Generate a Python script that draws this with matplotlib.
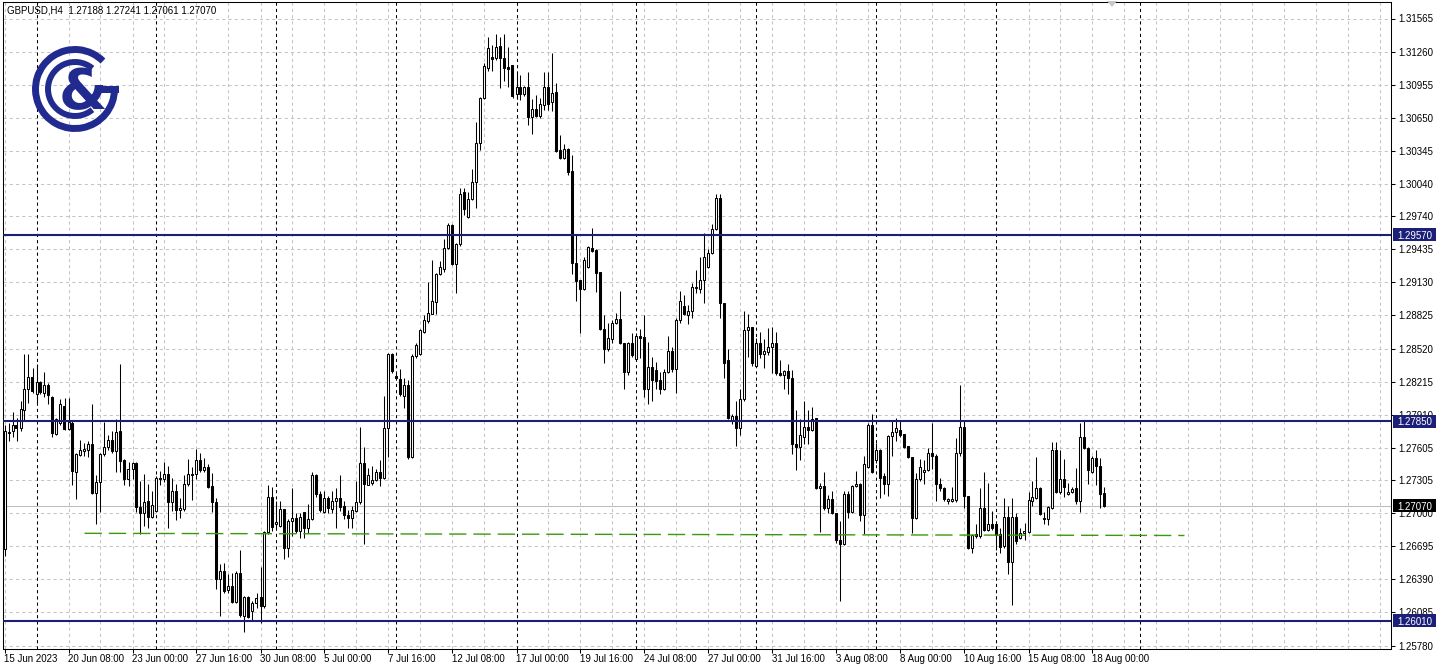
import numpy as np
import matplotlib
matplotlib.use("Agg")
import matplotlib.pyplot as plt
from matplotlib import font_manager
from matplotlib.patches import Rectangle, Arc, Polygon
from matplotlib.transforms import IdentityTransform

# ---------------- data (GBPUSD, H4) ----------------
symbol_info = "GBPUSD,H4  1.27188 1.27241 1.27061 1.27070"

opens = [
    1.2667, 1.2774, 1.2776, 1.2781, 1.2779, 1.2795, 1.2815, 1.2826, 1.2810, 1.2821,
    1.2811, 1.2818, 1.2807, 1.2773, 1.2783, 1.2799, 1.2778, 1.2783, 1.2738, 1.2754,
    1.2757, 1.2758, 1.2764, 1.2719, 1.2729, 1.2755, 1.2761, 1.2768, 1.2757, 1.2776,
    1.2749, 1.2732, 1.2741, 1.2746, 1.2706, 1.2700, 1.2711, 1.2697, 1.2702, 1.2732,
    1.2732, 1.2736, 1.2710, 1.2721, 1.2703, 1.2704, 1.2727, 1.2736, 1.2736, 1.2749,
    1.2740, 1.2743, 1.2725, 1.2710, 1.2639, 1.2647, 1.2629, 1.2633, 1.2618, 1.2645,
    1.2605, 1.2623, 1.2610, 1.2617, 1.2623, 1.2614, 1.2683, 1.2715, 1.2690, 1.2688,
    1.2704, 1.2668, 1.2693, 1.2696, 1.2684, 1.2701, 1.2686, 1.2695, 1.2735, 1.2718,
    1.2701, 1.2714, 1.2704, 1.2711, 1.2714, 1.2707, 1.2698, 1.2696, 1.2702, 1.2710,
    1.2746, 1.2726, 1.2728, 1.2731, 1.2738, 1.2733, 1.2779, 1.2847, 1.2827, 1.2824,
    1.2808, 1.2818, 1.2752, 1.2845, 1.2847, 1.2867, 1.2877, 1.2884, 1.2895, 1.2921,
    1.2925, 1.2945, 1.2966, 1.2930, 1.2948, 1.2996, 1.2973, 1.2990, 1.3006, 1.3042,
    1.3083, 1.3111, 1.3121, 1.3120, 1.3131, 1.3120, 1.3112, 1.3114, 1.3087, 1.3093,
    1.3087, 1.3093, 1.3066, 1.3073, 1.3067, 1.3077, 1.3093, 1.3079, 1.3089, 1.3035,
    1.3028, 1.3036, 1.3016, 1.2931, 1.2915, 1.2907, 1.2927, 1.2945, 1.2943, 1.2923,
    1.2870, 1.2852, 1.2861, 1.2876, 1.2879, 1.2857, 1.2830, 1.2857, 1.2842, 1.2864,
    1.2863, 1.2815, 1.2835, 1.2832, 1.2823, 1.2815, 1.2830, 1.2850, 1.2833, 1.2878,
    1.2891, 1.2883, 1.2887, 1.2909, 1.2907, 1.2915, 1.2927, 1.2940, 1.2962, 1.2991,
    1.2894, 1.2841, 1.2785, 1.2790, 1.2779, 1.2805, 1.2869, 1.2872, 1.2836, 1.2857,
    1.2847, 1.2849, 1.2853, 1.2857, 1.2829, 1.2828, 1.2831, 1.2825, 1.2764, 1.2761,
    1.2770, 1.2780, 1.2777, 1.2788, 1.2723, 1.2725, 1.2705, 1.2713, 1.2700, 1.2675,
    1.2672, 1.2718, 1.2701, 1.2725, 1.2727, 1.2698, 1.2743, 1.2781, 1.2749, 1.2758,
    1.2734, 1.2727, 1.2771, 1.2775, 1.2777, 1.2773, 1.2762, 1.2752, 1.2696, 1.2732,
    1.2738, 1.2740, 1.2756, 1.2753, 1.2727, 1.2723, 1.2711, 1.2711, 1.2712, 1.2756,
    1.2780, 1.2716, 1.2668, 1.2681, 1.2679, 1.2705, 1.2685, 1.2690, 1.2690, 1.2681,
    1.2670, 1.2697, 1.2655, 1.2697, 1.2677, 1.2682, 1.2683, 1.2711, 1.2714, 1.2723,
    1.2696, 1.2695, 1.2705, 1.2758, 1.2720, 1.2732, 1.2718, 1.2720, 1.2723, 1.2711,
    1.2770, 1.2760, 1.2738, 1.2751, 1.2744, 1.27188,
]
highs = [
    1.2781, 1.2783, 1.2793, 1.2788, 1.2804, 1.2847, 1.2847, 1.2834, 1.2838, 1.2822,
    1.2830, 1.2820, 1.2808, 1.2788, 1.2805, 1.2806, 1.2806, 1.2786, 1.2756, 1.2768,
    1.2765, 1.2767, 1.2801, 1.2735, 1.2756, 1.2784, 1.2772, 1.2776, 1.2787, 1.2838,
    1.2750, 1.2747, 1.2747, 1.2747, 1.2730, 1.2736, 1.2727, 1.2721, 1.2734, 1.2739,
    1.2747, 1.2744, 1.2733, 1.2727, 1.2714, 1.2735, 1.2750, 1.2743, 1.2759, 1.2756,
    1.2751, 1.2745, 1.2737, 1.2714, 1.2653, 1.2654, 1.2644, 1.2645, 1.2647, 1.2666,
    1.2624, 1.2624, 1.2619, 1.2626, 1.2650, 1.2684, 1.2726, 1.2724, 1.2711, 1.2711,
    1.2704, 1.2695, 1.2723, 1.2700, 1.2700, 1.2701, 1.2709, 1.2738, 1.2736, 1.2721,
    1.2721, 1.2716, 1.2721, 1.2723, 1.2735, 1.2711, 1.2703, 1.2707, 1.2730, 1.2780,
    1.2761, 1.2742, 1.2744, 1.2741, 1.2749, 1.2808, 1.2848, 1.2848, 1.2829, 1.2833,
    1.2825, 1.2823, 1.2847, 1.2857, 1.2870, 1.2883, 1.2913, 1.2934, 1.2922, 1.2933,
    1.2953, 1.2968, 1.2967, 1.2949, 1.3000, 1.3000, 1.2996, 1.3018, 1.3061, 1.3084,
    1.3115, 1.3139, 1.3132, 1.3142, 1.3139, 1.3142, 1.3130, 1.3114, 1.3107, 1.3104,
    1.3094, 1.3107, 1.3082, 1.3086, 1.3083, 1.3107, 1.3107, 1.3125, 1.3097, 1.3049,
    1.3041, 1.3037, 1.3031, 1.2957, 1.2915, 1.2936, 1.2947, 1.2963, 1.2944, 1.2923,
    1.2883, 1.2876, 1.2878, 1.2885, 1.2905, 1.2857, 1.2858, 1.2866, 1.2866, 1.2870,
    1.2883, 1.2858, 1.2844, 1.2840, 1.2830, 1.2833, 1.2864, 1.2853, 1.2880, 1.2905,
    1.2901, 1.2892, 1.2912, 1.2924, 1.2936, 1.2959, 1.2944, 1.2967, 1.2995, 1.2995,
    1.2894, 1.2852, 1.2792, 1.2804, 1.2815, 1.2887, 1.2884, 1.2872, 1.2862, 1.2867,
    1.2861, 1.2871, 1.2872, 1.2867, 1.2841, 1.2832, 1.2838, 1.2832, 1.2795, 1.2787,
    1.2804, 1.2795, 1.2798, 1.2788, 1.2728, 1.2738, 1.2717, 1.2721, 1.2700, 1.2693,
    1.2721, 1.2721, 1.2726, 1.2739, 1.2728, 1.2753, 1.2783, 1.2792, 1.2765, 1.2759,
    1.2737, 1.2772, 1.2786, 1.2788, 1.2786, 1.2773, 1.2762, 1.2752, 1.2737, 1.2750,
    1.2749, 1.2760, 1.2783, 1.2755, 1.2733, 1.2724, 1.2714, 1.2724, 1.2769, 1.2818,
    1.2786, 1.2716, 1.2681, 1.2690, 1.2723, 1.2738, 1.2728, 1.2702, 1.2691, 1.2686,
    1.2714, 1.2707, 1.2714, 1.2700, 1.2686, 1.2691, 1.2720, 1.2730, 1.2752, 1.2724,
    1.2701, 1.2707, 1.2766, 1.2766, 1.2758, 1.2750, 1.2728, 1.2724, 1.2742, 1.2783,
    1.2786, 1.2761, 1.2753, 1.2758, 1.2751, 1.27241,
]
lows = [
    1.2661, 1.2767, 1.2770, 1.2767, 1.2776, 1.2786, 1.2802, 1.2811, 1.2802, 1.2810,
    1.2807, 1.2801, 1.2770, 1.2772, 1.2781, 1.2777, 1.2777, 1.2726, 1.2713, 1.2753,
    1.2753, 1.2752, 1.2718, 1.2690, 1.2701, 1.2753, 1.2758, 1.2756, 1.2738, 1.2738,
    1.2726, 1.2725, 1.2732, 1.2701, 1.2681, 1.2688, 1.2686, 1.2696, 1.2701, 1.2726,
    1.2729, 1.2686, 1.2702, 1.2694, 1.2696, 1.2702, 1.2725, 1.2712, 1.2732, 1.2738,
    1.2738, 1.2723, 1.2701, 1.2630, 1.2605, 1.2626, 1.2626, 1.2617, 1.2617, 1.2604,
    1.2590, 1.2603, 1.2601, 1.2613, 1.2599, 1.2613, 1.2681, 1.2684, 1.2686, 1.2687,
    1.2658, 1.2660, 1.2679, 1.2682, 1.2677, 1.2677, 1.2682, 1.2694, 1.2715, 1.2701,
    1.2700, 1.2700, 1.2700, 1.2686, 1.2702, 1.2695, 1.2686, 1.2686, 1.2701, 1.2709,
    1.2672, 1.2726, 1.2726, 1.2730, 1.2725, 1.2732, 1.2752, 1.2829, 1.2824, 1.2808,
    1.2797, 1.2750, 1.2751, 1.2843, 1.2846, 1.2866, 1.2876, 1.2884, 1.2884, 1.2920,
    1.2923, 1.2944, 1.2929, 1.2903, 1.2947, 1.2975, 1.2972, 1.2989, 1.2982, 1.3035,
    1.3082, 1.3108, 1.3108, 1.3118, 1.3092, 1.3099, 1.3093, 1.3083, 1.3082, 1.3081,
    1.3085, 1.3058, 1.3050, 1.3066, 1.3065, 1.3072, 1.3072, 1.3071, 1.3033, 1.3027,
    1.3027, 1.3012, 1.2921, 1.2896, 1.2866, 1.2906, 1.2926, 1.2941, 1.2904, 1.2869,
    1.2839, 1.2850, 1.2857, 1.2875, 1.2856, 1.2815, 1.2828, 1.2844, 1.2841, 1.2843,
    1.2807, 1.2801, 1.2804, 1.2815, 1.2810, 1.2814, 1.2829, 1.2830, 1.2811, 1.2876,
    1.2883, 1.2875, 1.2880, 1.2903, 1.2903, 1.2894, 1.2926, 1.2939, 1.2961, 1.2880,
    1.2825, 1.2787, 1.2782, 1.2762, 1.2772, 1.2804, 1.2844, 1.2836, 1.2835, 1.2843,
    1.2834, 1.2846, 1.2829, 1.2828, 1.2827, 1.2815, 1.2810, 1.2755, 1.2740, 1.2749,
    1.2764, 1.2764, 1.2776, 1.2722, 1.2683, 1.2703, 1.2700, 1.2699, 1.2673, 1.2619,
    1.2671, 1.2696, 1.2700, 1.2724, 1.2693, 1.2681, 1.2742, 1.2737, 1.2746, 1.2714,
    1.2718, 1.2716, 1.2753, 1.2767, 1.2770, 1.2760, 1.2751, 1.2682, 1.2695, 1.2730,
    1.2727, 1.2739, 1.2741, 1.2711, 1.2721, 1.2711, 1.2709, 1.2710, 1.2710, 1.2753,
    1.2705, 1.2667, 1.2663, 1.2677, 1.2677, 1.2684, 1.2684, 1.2685, 1.2666, 1.2663,
    1.2668, 1.2644, 1.2615, 1.2672, 1.2676, 1.2675, 1.2682, 1.2707, 1.2713, 1.2698,
    1.2690, 1.2689, 1.2704, 1.2719, 1.2718, 1.2715, 1.2717, 1.2719, 1.2709, 1.2701,
    1.2759, 1.2727, 1.2737, 1.2726, 1.2705, 1.27061,
]
closes = [
    1.2776, 1.2775, 1.2781, 1.2779, 1.2796, 1.2815, 1.2826, 1.2813, 1.2821, 1.2812,
    1.2818, 1.2809, 1.2774, 1.2787, 1.2801, 1.2778, 1.2784, 1.2739, 1.2755, 1.2758,
    1.2759, 1.2764, 1.2719, 1.2729, 1.2755, 1.2761, 1.2768, 1.2757, 1.2775, 1.2748,
    1.2732, 1.2741, 1.2746, 1.2706, 1.2700, 1.2710, 1.2697, 1.2708, 1.2733, 1.2733,
    1.2736, 1.2710, 1.2721, 1.2703, 1.2705, 1.2727, 1.2736, 1.2735, 1.2749, 1.2740,
    1.2743, 1.2724, 1.2710, 1.2639, 1.2647, 1.2628, 1.2633, 1.2618, 1.2645, 1.2606,
    1.2623, 1.2604, 1.2617, 1.2622, 1.2614, 1.2683, 1.2715, 1.2687, 1.2692, 1.2704,
    1.2668, 1.2693, 1.2696, 1.2684, 1.2697, 1.2686, 1.2695, 1.2735, 1.2718, 1.2703,
    1.2714, 1.2705, 1.2711, 1.2714, 1.2706, 1.2698, 1.2696, 1.2703, 1.2710, 1.2746,
    1.2727, 1.2735, 1.2731, 1.2738, 1.2733, 1.2779, 1.2847, 1.2831, 1.2825, 1.2810,
    1.2818, 1.2752, 1.2845, 1.2855, 1.2869, 1.2878, 1.2885, 1.2896, 1.2921, 1.2927,
    1.2945, 1.2966, 1.2930, 1.2948, 1.2995, 1.2981, 1.2990, 1.3006, 1.3042, 1.3083,
    1.3113, 1.3129, 1.3119, 1.3130, 1.3120, 1.3111, 1.3110, 1.3085, 1.3093, 1.3087,
    1.3093, 1.3066, 1.3073, 1.3067, 1.3078, 1.3093, 1.3078, 1.3088, 1.3034, 1.3028,
    1.3036, 1.3015, 1.2931, 1.2914, 1.2907, 1.2934, 1.2946, 1.2942, 1.2922, 1.2870,
    1.2852, 1.2862, 1.2876, 1.2879, 1.2857, 1.2830, 1.2857, 1.2846, 1.2864, 1.2862,
    1.2815, 1.2835, 1.2823, 1.2822, 1.2815, 1.2830, 1.2850, 1.2833, 1.2878, 1.2896,
    1.2884, 1.2887, 1.2909, 1.2908, 1.2915, 1.2936, 1.2940, 1.2962, 1.2991, 1.2894,
    1.2839, 1.2788, 1.2790, 1.2779, 1.2805, 1.2869, 1.2872, 1.2839, 1.2857, 1.2847,
    1.2850, 1.2853, 1.2857, 1.2829, 1.2828, 1.2831, 1.2825, 1.2764, 1.2761, 1.2772,
    1.2780, 1.2777, 1.2787, 1.2723, 1.2725, 1.2705, 1.2713, 1.2700, 1.2675, 1.2672,
    1.2718, 1.2701, 1.2725, 1.2727, 1.2698, 1.2745, 1.2781, 1.2738, 1.2758, 1.2733,
    1.2727, 1.2771, 1.2775, 1.2779, 1.2772, 1.2761, 1.2752, 1.2696, 1.2732, 1.2743,
    1.2740, 1.2756, 1.2753, 1.2727, 1.2723, 1.2713, 1.2713, 1.2713, 1.2756, 1.2780,
    1.2716, 1.2668, 1.2680, 1.2679, 1.2705, 1.2685, 1.2690, 1.2686, 1.2680, 1.2669,
    1.2697, 1.2655, 1.2697, 1.2674, 1.2682, 1.2684, 1.2712, 1.2715, 1.2723, 1.2699,
    1.2695, 1.2706, 1.2758, 1.2720, 1.2732, 1.2724, 1.2720, 1.2722, 1.2711, 1.2770,
    1.2760, 1.2740, 1.2751, 1.2744, 1.2718, 1.27070,
]

price_ticks = [1.31565, 1.31260, 1.30955, 1.30650, 1.30345, 1.30040, 1.29740,
               1.29435, 1.29130, 1.28825, 1.28520, 1.28215, 1.27910, 1.27605,
               1.27305, 1.27000, 1.26695, 1.26390, 1.26085, 1.25780]

time_labels = ["15 Jun 2023", "20 Jun 08:00", "23 Jun 00:00", "27 Jun 16:00",
               "30 Jun 08:00", "5 Jul 00:00", "7 Jul 16:00", "12 Jul 08:00",
               "17 Jul 00:00", "19 Jul 16:00", "24 Jul 08:00", "27 Jul 00:00",
               "31 Jul 16:00", "3 Aug 08:00", "8 Aug 00:00", "10 Aug 16:00",
               "15 Aug 08:00", "18 Aug 00:00"]
time_label_bars = list(range(0, 273, 16))          # bar index of each label
week_separator_bars = [8, 38, 68, 98, 128, 158, 188, 218, 248, 284]

levels = [1.29570, 1.27850, 1.26010]
current_price = 1.27070
trend_bars = [20, 295]
trend_prices = [1.26815, 1.26795]

# ---------------- styling ----------------
W, H, DPI = 1438, 668, 100
NAVY = "#1c1f78"
GREEN = "#3a9a0c"
GRID = "#c4c4c4"
LOGO = "#212a8e"

avail = {f.name for f in font_manager.fontManager.ttflist}
if "Liberation Sans Narrow" in avail:
    FONT, FS = "Liberation Sans Narrow", 7.6
else:
    FONT, FS = "Liberation Sans", 7.0
plt.rcParams["font.family"] = [FONT, "DejaVu Sans"]

fig = plt.figure(figsize=(W / DPI, H / DPI), dpi=DPI)
fig.patch.set_facecolor("white")

# plot area in pixels
AX_L, AX_R, AX_T, AX_B = 2.5, 1390.5, 1.5, 648.5
ax = fig.add_axes([AX_L / W, 1 - AX_B / H, (AX_R - AX_L) / W, (AX_B - AX_T) / H])
ax.set_facecolor("white")

BAR_PX = 4.0
ax.set_xlim(-0.5, (AX_R - AX_L) / BAR_PX - 0.5)
y_top_px, y_bot_px = 18.5, 645.5
ppx = (price_ticks[0] - price_ticks[-1]) / (y_bot_px - y_top_px)
ax.set_ylim(price_ticks[-1] - (AX_B - y_bot_px) * ppx, price_ticks[0] + (y_top_px - AX_T) * ppx)

# axes, ticks, grid
ax.set_yticks(price_ticks)
ax.set_yticklabels([f"{p:.5f}" for p in price_ticks])
ax.yaxis.tick_right()
ax.set_xticks(time_label_bars)
ax.set_xticklabels(time_labels)
ax.set_xticks(list(range(0, 347, 8)), minor=True)
ax.tick_params(axis="y", which="major", direction="out", length=3, width=0.75,
               pad=2.5, labelsize=FS, colors="black")
ax.tick_params(axis="x", which="major", direction="out", length=3, width=0.75,
               pad=1.0, labelsize=FS, colors="black")
ax.tick_params(axis="x", which="minor", length=0)
for lbl in ax.get_xticklabels():
    lbl.set_horizontalalignment("left")
ax.grid(True, which="both", axis="x", color=GRID, lw=0.75, ls=(0, (3, 3)), zorder=0)
ax.grid(True, which="major", axis="y", color=GRID, lw=0.75, ls=(0, (3, 3)), zorder=0)
ax.set_axisbelow(True)
for s in ax.spines.values():
    s.set_color("black")
    s.set_linewidth(0.75)

for b in week_separator_bars:
    ax.axvline(b, color="black", lw=0.75, ls=(0, (3, 3)), zorder=1)

# bid line
ax.axhline(current_price, color="#bdbdbd", lw=0.75, zorder=1)

# candles
o = np.array(opens); hi = np.array(highs); lo = np.array(lows); c = np.array(closes)
hi = np.maximum(hi, np.maximum(o, c)); lo = np.minimum(lo, np.minimum(o, c))
idx = np.arange(len(o))
bull = c >= o
ax.vlines(idx, lo, hi, colors="black", linewidth=0.75, zorder=3)
bottom = np.minimum(o, c)
height = np.maximum(np.abs(c - o), 1e-7)
ax.bar(idx[bull], height[bull], bottom=bottom[bull], width=0.5, facecolor="white",
       edgecolor="black", linewidth=0.75, zorder=3.5)
ax.bar(idx[~bull], height[~bull], bottom=bottom[~bull], width=0.5, facecolor="black",
       edgecolor="black", linewidth=0.75, zorder=3.5)

# chart objects
for lv in levels:
    ax.axhline(lv, color=NAVY, lw=1.5, zorder=4)
ax.plot(trend_bars, trend_prices, color=GREEN, lw=1.0, ls=(0, (12.5, 5)), zorder=4)

# price tags on the right axis
fig.canvas.draw()
def tag(price, face):
    yd = ax.transData.transform((0, price))[1]
    fig.add_artist(Rectangle((1392.5, yd - 6.5), 43, 13, transform=IdentityTransform(),
                             facecolor=face, edgecolor="none", zorder=5))
    fig.text(1397.5 / W, yd / H, f"{price:.5f}", color="white", fontsize=FS,
             va="center_baseline", ha="left", zorder=6)
for lv in levels:
    tag(lv, NAVY)
tag(current_price, "black")

# symbol header
fig.text(7 / W, 1 - 10.5 / H, symbol_info, fontsize=FS, va="center", ha="left")

# shift marker
fig.add_artist(Polygon([(1107, H - 1), (1117, H - 1), (1112, H - 7)], closed=True,
                       transform=IdentityTransform(), facecolor="#c8c8c8",
                       edgecolor="none", zorder=5))

# logo
lax = fig.add_axes([27 / W, 1 - 137 / H, 96 / W, 96 / H])
lax.set_xlim(0, 96); lax.set_ylim(0, 96); lax.axis("off")
lax.patch.set_alpha(0)
lax.add_patch(Arc((48, 48), 79, 79, theta1=45, theta2=360, lw=5.0, color=LOGO))
lax.add_patch(Rectangle((72, 44.5), 19.5, 6.5, color=LOGO, lw=0))
lax.add_patch(Arc((48, 48), 54, 54, theta1=50, theta2=310, lw=4.3, color=LOGO))
lax.text(56, 44, "&", fontsize=40, fontweight="bold", color=LOGO,
         ha="center", va="center", family="DejaVu Sans")

fig.savefig("out.png", dpi=DPI)
